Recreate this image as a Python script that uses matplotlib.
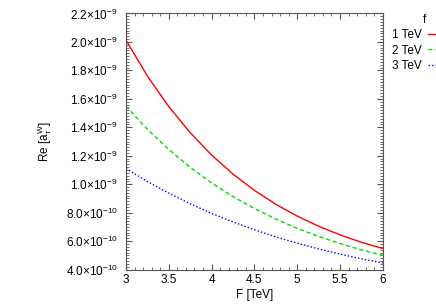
import numpy as np
import matplotlib
matplotlib.use('Agg')
import matplotlib.pyplot as plt
from matplotlib.ticker import MultipleLocator, FuncFormatter

# values (units of 1e-9)
F = [3.0, 3.25, 3.5, 3.75, 4.0, 4.25, 4.5, 4.75, 5.0, 5.25, 5.5, 5.75, 6.0]
f_1tev = [2.012, 1.760, 1.545, 1.362, 1.205, 1.071, 0.957, 0.859, 0.776, 0.705, 0.644, 0.592, 0.548]
f_2tev = [1.548, 1.386, 1.244, 1.119, 1.009, 0.913, 0.829, 0.755, 0.690, 0.633, 0.583, 0.539, 0.500]
f_3tev = [1.110, 1.019, 0.937, 0.863, 0.795, 0.735, 0.680, 0.630, 0.586, 0.545, 0.509, 0.476, 0.446]
labels = ['1 TeV', '2 TeV', '3 TeV']

plt.rcParams['font.family'] = ['Liberation Sans', 'DejaVu Sans']
plt.rcParams['mathtext.fontset'] = 'custom'
plt.rcParams['mathtext.rm'] = 'Liberation Sans'
plt.rcParams['mathtext.it'] = 'Liberation Sans:italic'

fig = plt.figure(figsize=(4.36, 3.05), dpi=100)
ax = fig.add_axes([0.289, 0.116, 0.589, 0.840])

F = np.array(F)
ax.plot(F, np.array(f_1tev) * 1e-9, color='#ff0000', lw=1.0, label=labels[0])
ax.plot(F, np.array(f_2tev) * 1e-9, color='#00dd00', lw=1.0, dashes=(3, 2), label=labels[1])
ax.plot(F, np.array(f_3tev) * 1e-9, color='#0000ff', lw=1.0, dashes=(1, 1.5), label=labels[2])

ax.set_xlim(3, 6)
ax.set_ylim(4e-10, 2.2e-9)
ax.xaxis.set_major_locator(MultipleLocator(0.5))
ax.xaxis.set_minor_locator(MultipleLocator(0.1))
ax.yaxis.set_major_locator(MultipleLocator(2e-10))
ax.yaxis.set_minor_locator(MultipleLocator(2e-11))


def sci(v, pos):
    if v == 0:
        return '0'
    e = int(np.floor(np.log10(abs(v)) + 1e-9))
    m = v / 10**e
    return r'$%.1f{\times}10^{%d}$' % (m, e)


ax.yaxis.set_major_formatter(FuncFormatter(sci))
ax.xaxis.set_major_formatter(FuncFormatter(lambda v, p: ('%g' % v)))

ax.tick_params(which='both', direction='in', top=True, right=True, color='#555555')
ax.tick_params(which='major', length=4, width=0.8)
ax.tick_params(which='minor', length=2, width=0.6)
ax.tick_params(axis='y', pad=6, labelsize=8.5)
ax.tick_params(axis='x', pad=3.5, labelsize=8.5)
for s in ax.spines.values():
    s.set_color('#555555')
    s.set_linewidth(0.8)

ax.set_xlabel('F [TeV]', fontsize=8.5, labelpad=2)
ax.set_ylabel(r'Re [a$_{\tau}^{\mathrm{W}}$]', fontsize=8.5, labelpad=8)

leg = ax.legend(loc='upper left', bbox_to_anchor=(0.885, 0.975), bbox_transform=fig.transFigure,
                frameon=False, markerfirst=False, title='f', fontsize=8.5, title_fontsize=8.5,
                handlelength=2.5, handletextpad=0.5, labelspacing=0.3, borderpad=0)

fig.savefig('out.png', dpi=100)
